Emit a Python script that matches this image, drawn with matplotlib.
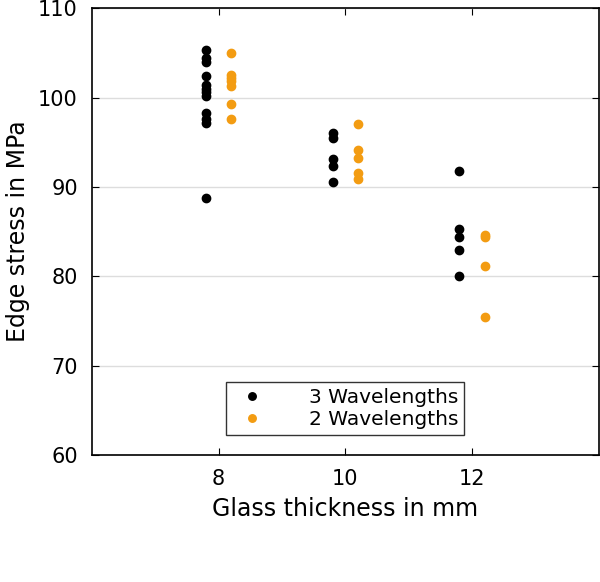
import matplotlib.pyplot as plt

# Edge stress data per glass thickness
x_3wl = [7.8] * 12 + [9.8] * 5 + [11.8] * 5
y_3wl = [105.3, 104.4, 104.0, 102.4, 101.4, 101.0, 100.6, 100.2, 98.3, 97.6, 97.2, 88.8,
         96.0, 95.5, 93.1, 92.3, 90.6,
         91.8, 85.3, 84.4, 83.0, 80.0]
x_2wl = [8.2] * 7 + [10.2] * 5 + [12.2] * 4
y_2wl = [105.0, 102.5, 102.2, 101.8, 101.3, 99.3, 97.6,
         97.0, 94.1, 93.2, 91.6, 90.9,
         84.6, 84.4, 81.2, 75.5]
x_ticks = [8, 10, 12]
y_ticks = [60, 70, 80, 90, 100, 110]

fig = plt.figure(figsize=(6, 5.82), dpi=100)
ax = fig.add_axes([0.153, 0.218, 0.845, 0.768])

ax.plot(x_3wl, y_3wl, "o", color="black", markersize=6, label="3 Wavelengths")
ax.plot(x_2wl, y_2wl, "o", color="#f39c12", markersize=6, label="2 Wavelengths")

ax.set_xlim(6, 14)
ax.set_ylim(60, 110)
ax.set_xticks(x_ticks)
ax.set_yticks(y_ticks)
ax.yaxis.grid(True, color="#dddddd", linewidth=1)
ax.set_axisbelow(True)
ax.tick_params(direction="in", top=True, right=True, labelsize=15, length=5, pad=10)
for s in ax.spines.values():
    s.set_linewidth(1.2)

ax.set_xlabel("Glass thickness in mm", fontsize=17, labelpad=6)
ax.set_ylabel("Edge stress in MPa", fontsize=17, labelpad=6)

leg = ax.legend(loc="lower center", bbox_to_anchor=(0.5, 0.022), fontsize=14.5,
                fancybox=False, edgecolor="black", handletextpad=1.8,
                borderpad=0.3, labelspacing=0.15, handlelength=2.0, markerscale=0.9)
leg.get_frame().set_linewidth(1.0)

fig.savefig("out.png", dpi=100)
